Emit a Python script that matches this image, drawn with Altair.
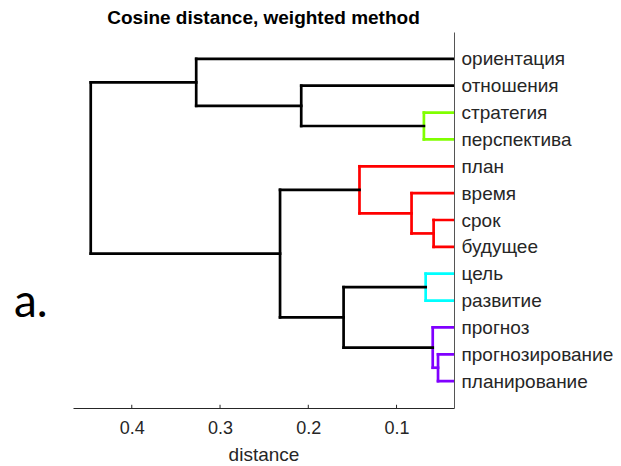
import altair as alt
import pandas as pd

# ---- data -------------------------------------------------------------
leaves = ["ориентация", "отношения", "стратегия", "перспектива", "план",
          "время", "срок", "будущее", "цель", "развитие", "прогноз",
          "прогнозирование", "планирование"]

node_names = ["A", "B", "C", "D", "E", "F", "G", "H", "I", "J", "K", "R"]
child1 = ["стратегия", "срок", "время", "план", "прогнозирование", "прогноз",
          "цель", "G", "D", "отношения", "ориентация", "K"]
child2 = ["перспектива", "будущее", "B", "C", "планирование", "E",
          "развитие", "F", "H", "A", "J", "I"]
heights = [0.069, 0.058, 0.083, 0.142, 0.053, 0.059,
           0.067, 0.160, 0.232, 0.208, 0.327, 0.4465]
colors = ["#80FF00", "#FF0000", "#FF0000", "#FF0000", "#8000FF", "#8000FF",
          "#00FFFF", "#000000", "#000000", "#000000", "#000000", "#000000"]

tick_values = [0.1, 0.2, 0.3, 0.4]
x_domain = [0.0349, 0.4666]

# ---- build dendrogram segments ----------------------------------------
n = len(leaves)
pos = {name: (0.0, n - i) for i, name in enumerate(leaves)}
rows = []
for name, c1, c2, h, col in zip(node_names, child1, child2, heights, colors):
    x1, y1 = pos[c1]
    x2, y2 = pos[c2]
    rows.append(dict(x=x1, x2=h, y=y1, y2=y1, color=col))
    rows.append(dict(x=h, x2=h, y=y1, y2=y2, color=col))
    rows.append(dict(x=x2, x2=h, y=y2, y2=y2, color=col))
    pos[name] = (h, (y1 + y2) / 2)
seg = pd.DataFrame(rows)

label_js = "[" + ",".join("'%s'" % leaves[n - k] for k in range(1, n + 1)) + "]"

FONT = "Liberation Sans"
TXT = "#262626"

xscale = alt.Scale(domain=x_domain, reverse=True, zero=False, nice=False)
yscale = alt.Scale(domain=[0, n + 1], zero=False, nice=False)

x_axis = alt.Axis(values=tick_values, title="distance", format=".1f",
                  ticks=False, tickSize=0, grid=False, labelPadding=11,
                  labelFont=FONT, labelFontSize=18, labelColor=TXT,
                  titleFont=FONT, titleFontSize=19, titleColor=TXT,
                  titleFontWeight="normal", titlePadding=8,
                  domainColor=TXT, domainWidth=1.2)
y_axis = alt.Axis(orient="right", values=list(range(1, n + 1)),
                  labelExpr=label_js + "[datum.value-1]",
                  labelOverlap=False, labelBound=False,
                  ticks=False, tickSize=0, grid=False, title=None,
                  labelPadding=7, labelFont=FONT, labelFontSize=19,
                  labelColor=TXT, domainColor="#555555", domainWidth=1)

branches = alt.Chart(seg).mark_rule(strokeWidth=2.7, strokeCap="square", clip=True).encode(
    x=alt.X("x:Q", scale=xscale, axis=x_axis),
    x2="x2:Q",
    y=alt.Y("y:Q", scale=yscale, axis=y_axis),
    y2="y2:Q",
    color=alt.Color("color:N", scale=None),
)

ticks = alt.Chart(pd.DataFrame({"t": tick_values})).mark_rule(
    color=TXT, strokeWidth=1).encode(
    x=alt.X("t:Q", scale=xscale, axis=x_axis),
    y=alt.YDatum(0, axis=y_axis),
    y2=alt.datum(0.12),
)

letter = alt.Chart(pd.DataFrame({"s": ["a."]})).mark_text(
    font="Lato", fontSize=46, align="left", baseline="alphabetic", color="#000000"
).encode(text="s:N", x=alt.value(-59), y=alt.value(285))

chart = alt.layer(branches, ticks, letter).properties(
    width=381, height=376,
    title=alt.TitleParams("Cosine distance, weighted method", font=FONT,
                          fontSize=19, fontWeight="bold", color="#000000",
                          anchor="middle", offset=4),
    autosize=alt.AutoSizeParams(type="none"),
    padding={"left": 65, "top": 24, "right": 159, "bottom": 58},
).configure_view(stroke=None).configure_axis(labelOverlap=False)

chart.save("out.html", embed_options={"renderer": "svg", "actions": False})
